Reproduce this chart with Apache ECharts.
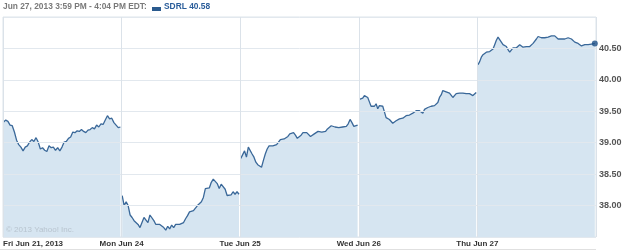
<!DOCTYPE html>
<html>
<head>
<meta charset="utf-8">
<script src="https://cdn.jsdelivr.net/npm/echarts@6/dist/echarts.min.js"></script>
<style>
html,body{margin:0;padding:0;background:#fff;}
#c{width:625px;height:251px;}
</style>
</head>
<body>
<div id="c"></div>
<script>
// Tick labels (one per trading day) and y ticks
const xLabels = ['Fri Jun 21, 2013', 'Mon Jun 24', 'Tue Jun 25', 'Wed Jun 26', 'Thu Jun 27'];
const yMin = 37.5, yMax = 41.0, yStep = 0.5;

// Intraday prices (SDRL), equally spaced through each session
const day1 = [39.33,39.36,39.34,39.28,39.27,39.17,39.04,38.97,38.93,38.87,38.93,38.95,39.01,39.05,39.02,39.08,39.01,38.90,38.92,38.88,38.86,38.95,38.92,38.93,38.88,38.92,38.87,38.93,39.01,39.02,39.07,39.09,39.17,39.16,39.19,39.18,39.21,39.18,39.16,39.20,39.21,39.24,39.22,39.28,39.25,39.30,39.29,39.36,39.43,39.38,39.39,39.32,39.28,39.24,39.25];
const day2 = [38.16,38.00,38.06,38.00,37.85,37.81,37.76,37.74,37.70,37.65,37.62,37.81,37.78,37.73,37.85,37.84,37.76,37.70,37.67,37.70,37.69,37.65,37.61,37.67,37.63,37.69,37.65,37.70,37.70,37.70,37.72,37.73,37.79,37.84,37.90,37.89,37.92,37.90,38.00,37.98,38.06,38.13,38.27,38.27,38.28,38.37,38.42,38.39,38.35,38.27,38.34,38.37,38.26,38.16,38.16,38.17,38.22,38.18,38.22,38.18];
const day3 = [38.75,38.81,38.87,38.77,38.93,38.90,38.82,38.77,38.69,38.65,38.66,38.61,38.72,38.82,38.90,38.95,38.93,38.95,38.94,38.97,39.01,39.05,39.05,39.06,39.09,39.10,39.14,39.11,39.16,39.12,39.07,39.10,39.12,39.16,39.18,39.16,39.13,39.10,39.07,39.14,39.17,39.18,39.17,39.17,39.18,39.18,39.22,39.23,39.27,39.25,39.25,39.24,39.24,39.23,39.25,39.27,39.26,39.30,39.37,39.32,39.26,39.28,39.28];
const day4 = [39.69,39.72,39.71,39.75,39.76,39.72,39.65,39.58,39.60,39.58,39.62,39.54,39.59,39.62,39.58,39.49,39.40,39.38,39.37,39.34,39.31,39.32,39.35,39.37,39.38,39.37,39.39,39.38,39.43,39.43,39.44,39.46,39.47,39.49,39.51,39.51,39.51,39.49,39.47,39.53,39.56,39.56,39.57,39.58,39.58,39.59,39.60,39.64,39.72,39.76,39.83,39.83,39.81,39.83,39.79,39.76,39.72,39.74,39.78,39.79,39.79,39.80,39.79,39.79,39.78,39.78,39.78,39.76,39.75,39.78,39.80];
const day5 = [40.24,40.29,40.36,40.40,40.42,40.44,40.44,40.45,40.48,40.49,40.56,40.63,40.68,40.65,40.60,40.56,40.54,40.53,40.48,40.44,40.45,40.51,40.51,40.51,40.52,40.56,40.56,40.52,40.51,40.53,40.54,40.53,40.54,40.58,40.61,40.65,40.69,40.69,40.67,40.65,40.67,40.67,40.68,40.70,40.70,40.70,40.70,40.69,40.65,40.63,40.65,40.63,40.65,40.67,40.67,40.65,40.65,40.63,40.60,40.58,40.58,40.56,40.54,40.54,40.56,40.54,40.56,40.57,40.57,40.58,40.58];

const days = [day1, day2, day3, day4, day5];
const ticker = 'SDRL';
const lastPrice = 40.58;
const headerText = 'Jun 27, 2013 3:59 PM - 4:04 PM EDT:';

const LINE = '#3a6899', FILL = '#d6e5f1', GRID = '#e2e8ee';

// place each session inside its own day slot on the x axis
function toPairs(vals, d) {
  const n = vals.length;
  return vals.map((v, i) => [d + 0.005 + (i / (n - 1)) * 0.985, v]);
}

const series = days.map((vals, d) => ({
  type: 'line',
  data: toPairs(vals, d),
  showSymbol: false,
  symbol: 'none',
  lineStyle: { color: LINE, width: 1.3 },
  areaStyle: { color: FILL, opacity: 1 },
  z: 2,
  silent: true,
  animation: false
}));
const lastPairs = toPairs(day5, 4);
series.push({
  type: 'scatter',
  data: [lastPairs[lastPairs.length - 1]],
  symbol: 'circle',
  symbolSize: 6,
  itemStyle: { color: '#1d4f86' },
  z: 5,
  animation: false
});

const chart = echarts.init(document.getElementById('c'), null, { renderer: 'canvas' });
chart.setOption({
  animation: false,
  backgroundColor: '#fff',
  grid: { left: 2, right: 29, top: 17, bottom: 14, show: true, borderColor: '#dde4eb', borderWidth: 1, backgroundColor: 'transparent' },
  xAxis: {
    type: 'value', min: 0, max: 5, interval: 1, z: 3,
    axisLine: { show: false }, axisTick: { show: false },
    splitLine: { show: true, lineStyle: { color: '#dbe2e9', width: 1 } },
    axisLabel: {
      margin: 3, color: '#333', fontWeight: 'bold', fontSize: 8,
      fontFamily: 'Liberation Sans, Arial, sans-serif',
      formatter: v => xLabels[v] || '',
      alignMinLabel: 'left'
    }
  },
  yAxis: {
    type: 'value', position: 'right', min: yMin, max: yMax, interval: yStep, z: 3,
    axisLine: { show: false }, axisTick: { show: false },
    splitLine: { show: true, lineStyle: { color: GRID, width: 1 } },
    axisLabel: {
      margin: 3, color: '#555', fontWeight: 'bold', fontSize: 9,
      fontFamily: 'Liberation Sans, Arial, sans-serif',
      showMinLabel: false, showMaxLabel: false,
      formatter: v => v.toFixed(2)
    }
  },
  graphic: [
    { type: 'text', left: 3, top: 3, style: { text: headerText, fill: '#7a7a7a', font: 'bold 8.4px Liberation Sans, Arial, sans-serif' } },
    { type: 'rect', left: 152, top: 7, shape: { width: 9, height: 4 }, style: { fill: '#2a5a8e' } },
    { type: 'text', left: 164, top: 3, style: { text: ticker + ' ' + lastPrice.toFixed(2), fill: '#2a5d9a', font: 'bold 8.4px Liberation Sans, Arial, sans-serif' } },
    { type: 'text', left: 6, top: 226, z: 10, style: { text: '\u00A9 2013 Yahoo! Inc.', fill: '#b8c4cf', font: '8px Liberation Sans, Arial, sans-serif' } },
    { type: 'line', z: 10, shape: { x1: 0, y1: 249.5, x2: 596, y2: 249.5 }, style: { stroke: '#e0e0e0', lineWidth: 1 } }
  ],
  series: series
});
</script>
</body>
</html>
